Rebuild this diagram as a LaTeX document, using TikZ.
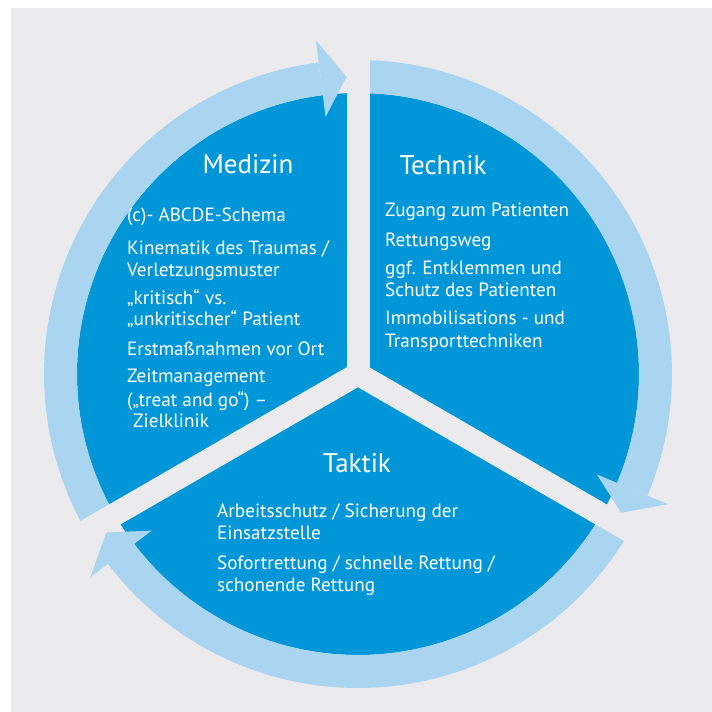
\documentclass[tikz,border=0pt]{standalone}
\usepackage{fontspec}
\setmainfont{PT Sans}
\usetikzlibrary{calc}
\definecolor{bgc}{HTML}{EBEBED}
\definecolor{darkc}{HTML}{0096D7}
\definecolor{ringc}{HTML}{A9D5F1}
\begin{document}
\begin{tikzpicture}[x=1pt,y=1pt,
  ringarc/.style={draw=ringc,line width=33pt},
  headfill/.style={fill=ringc},
  gapband/.style={draw=bgc,line width=23pt,line cap=butt},
  heading/.style={font=\fontsize{27}{30}\selectfont,text=white,anchor=base,inner sep=0pt},
  body/.style={font=\fontsize{19.2}{22}\selectfont,text=white,anchor=base west,inner sep=0pt}]
\useasboundingbox (0,0) rectangle (712,712);
\fill[bgc] (11,0) rectangle (712,704);
\coordinate (c) at (358,338);
% dark disc
\fill[darkc] (c) circle[radius=281pt];
% ring arcs
\draw[ringarc] ($(c)+(210:297.5pt)$) arc[start angle=210,end angle=97.2,radius=297.5pt];
\draw[ringarc] ($(c)+(90:297.5pt)$) arc[start angle=90,end angle=-22.8,radius=297.5pt];
\draw[ringarc] ($(c)+(330:297.5pt)$) arc[start angle=330,end angle=217.2,radius=297.5pt];
% arrowheads
\fill[headfill] ($(c)+(92.2:297.5pt)$) -- ($(c)+(97.2:259pt)$) -- ($(c)+(97.2:336pt)$) -- cycle;
\fill[headfill] ($(c)+(-27.8:297.5pt)$) -- ($(c)+(-22.8:259pt)$) -- ($(c)+(-22.8:336pt)$) -- cycle;
\fill[headfill] ($(c)+(212.2:297.5pt)$) -- ($(c)+(217.2:259pt)$) -- ($(c)+(217.2:336pt)$) -- cycle;
% gaps
\coordinate (g1) at ($(c)+(90:350pt)$);
\coordinate (g2) at ($(c)+(210:350pt)$);
\coordinate (g3) at ($(c)+(330:350pt)$);
\draw[gapband] (c) -- (g1);
\draw[gapband] (c) -- (g2);
\draw[gapband] (c) -- (g3);
% headings
\node[heading] (hmed) at (248,538) {Medizin};
\node[heading] (htec) at (443,537) {Technik};
\node[heading] (htak) at (357,239) {Taktik};
% Medizin
\node[body] (m1) at (127,490) {(c)- ABCDE-Schema};
\node[body] (m2) at (127,457) {Kinematik des Traumas /};
\node[body] (m3) at (127,435) {Verletzungsmuster};
\node[body] (m4) at (127,407) {„kritisch“ vs.};
\node[body] (m5) at (127,386) {„unkritischer“ Patient};
\node[body] (m6) at (127,356) {Erstmaßnahmen vor Ort};
\node[body] (m7) at (127,329) {Zeitmanagement};
\node[body] (m8) at (127,305) {(„treat and go“) –};
\node[body] (m9) at (133,284) {Zielklinik};
% Technik
\node[body] (t1) at (385,495) {Zugang zum Patienten};
\node[body] (t2) at (385,465) {Rettungsweg};
\node[body] (t3) at (385,437) {ggf. Entklemmen und};
\node[body] (t4) at (385,415) {Schutz des Patienten};
\node[body] (t5) at (385,387) {Immobilisations - und};
\node[body] (t6) at (385,364) {Transporttechniken};
% Taktik
\node[body] (k1) at (217,194) {Arbeitsschutz / Sicherung der};
\node[body] (k2) at (217,172) {Einsatzstelle};
\node[body] (k3) at (217,142) {Sofortrettung / schnelle Rettung /};
\node[body] (k4) at (217,120) {schonende Rettung};
\end{tikzpicture}
\end{document}
